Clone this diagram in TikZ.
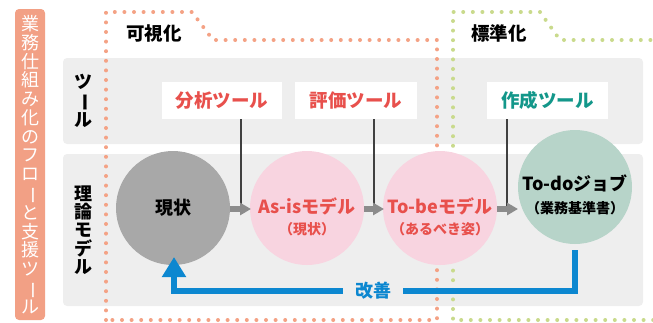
\documentclass[tikz,border=0pt]{standalone}
\usepackage{fontspec}
\setmainfont{Noto Sans CJK JP}
\usetikzlibrary{arrows.meta}
\definecolor{barorange}{HTML}{F2A085}
\definecolor{dotorange}{HTML}{F4A285}
\definecolor{dotgreen}{HTML}{C9DA8C}
\definecolor{panelgray}{HTML}{EEEEEE}
\definecolor{tred}{HTML}{E8504C}
\definecolor{tteal}{HTML}{13978A}
\definecolor{cgray}{HTML}{A8A8A8}
\definecolor{cpink}{HTML}{F8D4E0}
\definecolor{cgreen}{HTML}{B7D4C9}
\definecolor{cblue}{HTML}{0C87D0}
\definecolor{agray}{HTML}{8C8C8C}
\newcommand\vbar{\rotatebox[origin=c]{-90}{ー}}
\begin{document}
\begin{tikzpicture}[x=1pt,y=-1pt,
  panel/.style={fill=panelgray, rounded corners=4pt},
  dotline/.style={line width=4pt, line cap=round, dash pattern=on 0pt off 9.6pt},
  toolbox/.style={fill=white, minimum height=37pt, inner sep=0pt, font=\fontsize{18.5}{21}\selectfont\bfseries},
  circ/.style={circle, minimum size=114pt, inner sep=0pt},
  ctext/.style={font=\fontsize{18}{21}\selectfont\bfseries, inner sep=0pt},
  csub/.style={font=\fontsize{14}{16}\selectfont\bfseries, inner sep=0pt},
  toolline/.style={draw=black!75, line width=1.5pt},
  grayarrow/.style={draw=agray, line width=6pt, -{Triangle[length=11pt,width=12pt]}},
  blueline/.style={draw=cblue, line width=6pt},
  vlabel/.style={font=\fontsize{18}{18.2}\selectfont\bfseries, align=center, inner sep=0pt},
  heading/.style={font=\fontsize{18.5}{21}\selectfont\bfseries, inner sep=0pt}
]
\useasboundingbox (0,0) rectangle (653,322);
% side bar
\node[fill=barorange, rounded corners=4pt, minimum width=30pt, minimum height=311pt, inner sep=0pt] (bar) at (30,164.5) {};
\node[text=white, font=\fontsize{18}{18.75}\selectfont, align=center, inner sep=0pt] (bartext) at (bar.center)
 {業\\務\\仕\\組\\み\\化\\の\\フ\\ロ\\\vbar\\と\\支\\援\\ツ\\\vbar\\ル};
% panels
\node[panel, minimum width=580pt, minimum height=86pt, inner sep=0pt] (p1) at (353,101) {};
\node[panel, minimum width=580pt, minimum height=152pt, inner sep=0pt] (p2) at (353,230) {};
\node[vlabel] (l1) at (83,101) {ツ\\\vbar\\ル};
\node[vlabel] (l2) at (83,230) {理\\論\\モ\\デ\\ル};
% dotted frames
\draw[dotline, dotorange] (106,320) -- (106,12) -- (192,12) -- (213,40) -- (437,40) -- (437,320) -- cycle;
\draw[dotline, dotgreen] (660,40) -- (560,40) -- (540,12) -- (453,12) -- (453,320) -- (660,320);
\node[heading] (kashika) at (154,33) {可視化};
\node[heading] (hyojun) at (499,33) {標準化};
% tool boxes
\node[toolbox, minimum width=120pt, text=tred] (t1) at (222,100.5) {分析ツール};
\node[toolbox, minimum width=122pt, text=tred] (t2) at (356,100.5) {評価ツール};
\node[toolbox, minimum width=121pt, text=tteal] (t3) at (547.5,100.5) {作成ツール};
% circles
\node[circ, fill=cgray] (c1) at (173,208) {};
\node[circ, fill=cpink] (c2) at (307,208) {};
\node[circ, fill=cpink] (c3) at (440,208) {};
\node[circ, fill=cgreen] (c4) at (575,187) {};
\node[ctext] (c1t) at (173,208) {現状};
\node[ctext, text=tred] (c2t) at (307,206) {As-isモデル};
\node[csub, text=tred] (c2s) at (307,229) {（現状）};
\node[ctext, text=tred] (c3t) at (440,206) {To-beモデル};
\node[csub, text=tred] (c3s) at (440,229) {（あるべき姿）};
\node[ctext] (c4t) at (575,183) {To-doジョブ};
\node[csub] (c4s) at (575,208) {（業務基準書）};
% tool lines
\coordinate (j1) at (241,206);
\coordinate (j2) at (374,206);
\coordinate (j3) at (507,206);
\draw[toolline] (t1.south -| j1) -- (j1);
\draw[toolline] (t2.south -| j2) -- (j2);
\draw[toolline] (t3.south -| j3) -- (j3);
% gray arrows
\coordinate (a3e) at (518,209);
\draw[grayarrow] (230,209) -- (251,209);
\draw[grayarrow] (364,209) -- (384,209);
\draw[grayarrow] (497,209) -- (a3e);
% feedback
\node[fill=panelgray, text=cblue, font=\fontsize{18}{21}\selectfont\bfseries, inner xsep=12pt, inner ysep=2pt] (kz) at (373,291) {改善};
\coordinate (fb0) at (574.5,250);
\coordinate (fb1) at (174,257);
\draw[blueline] (fb0) |- (kz.east);
\draw[blueline, -{Triangle[length=20pt,width=23pt]}] (kz.west) -| (fb1);
\end{tikzpicture}
\end{document}
